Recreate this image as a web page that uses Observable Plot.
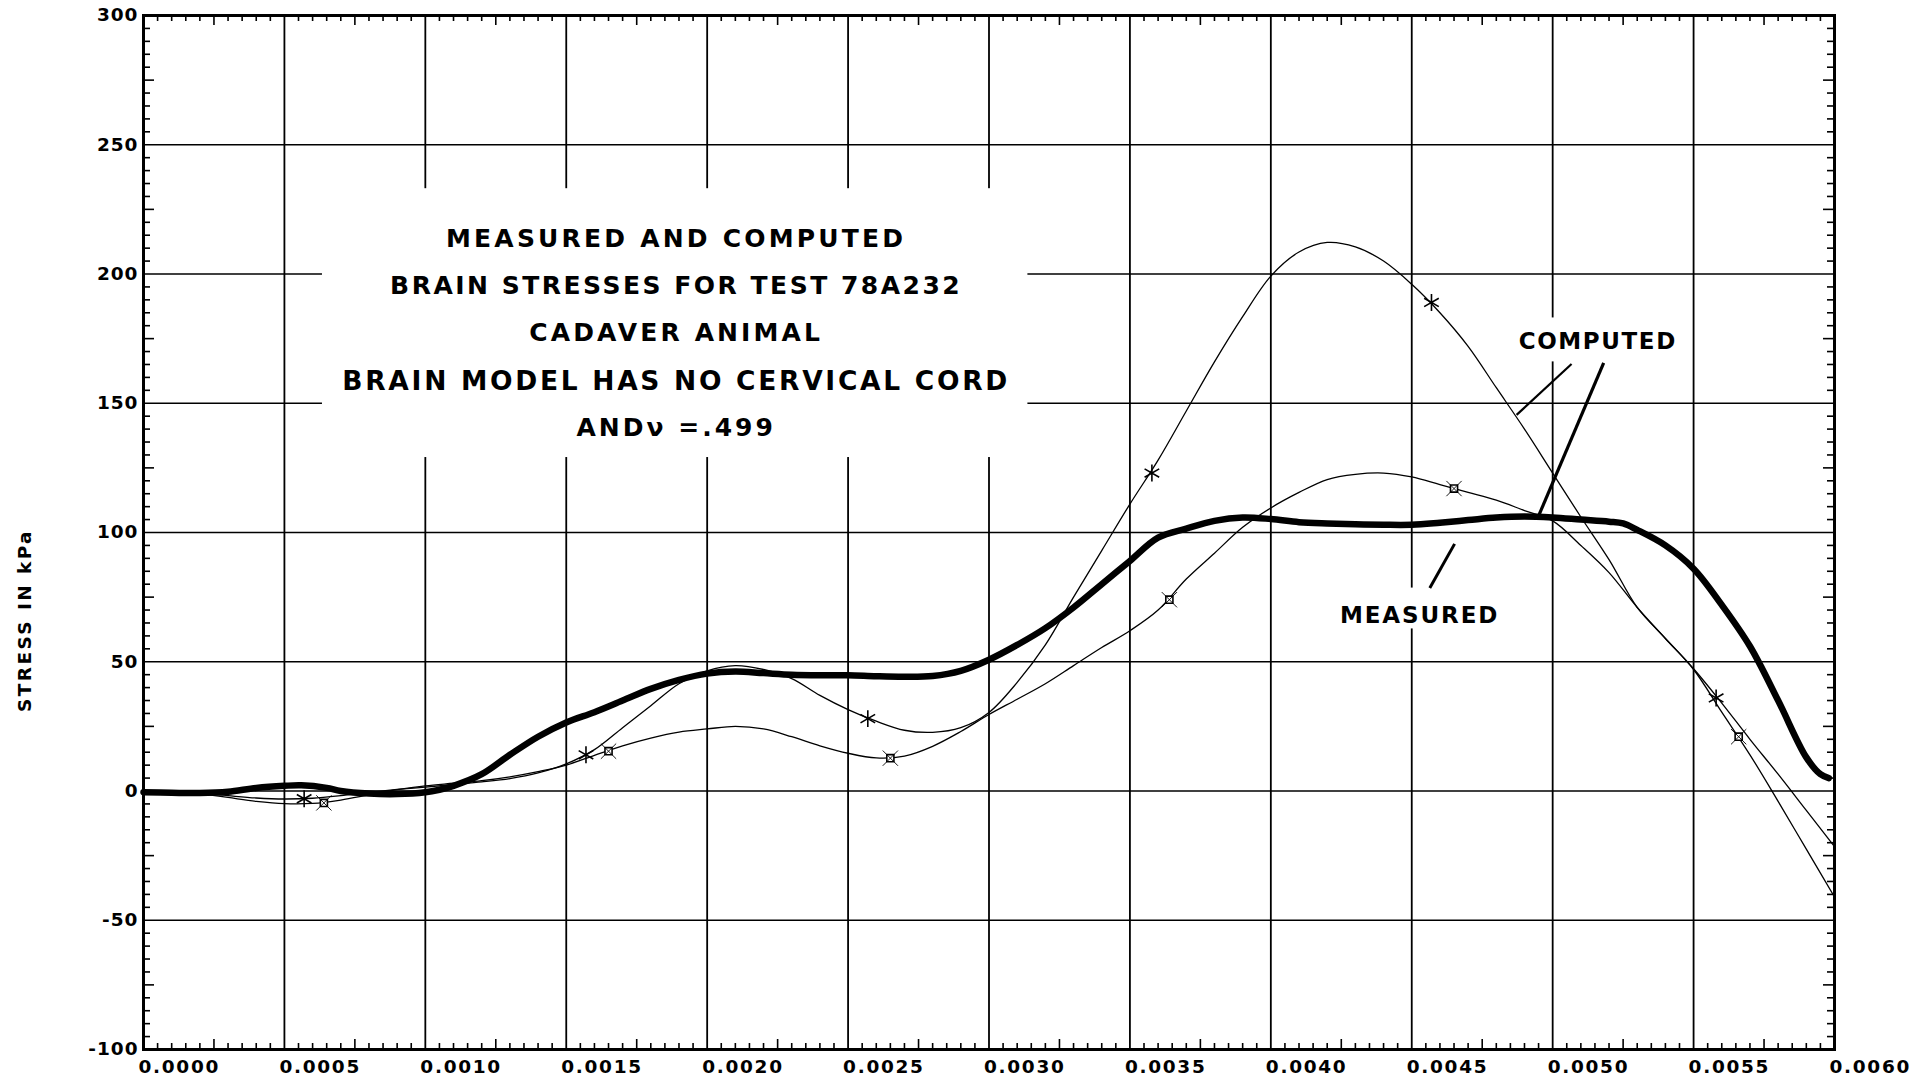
<!DOCTYPE html>
<html>
<head>
<meta charset="utf-8">
<script src="https://cdn.jsdelivr.net/npm/d3@7"></script>
<script src="https://cdn.jsdelivr.net/npm/@observablehq/plot@0.6"></script>
<style>
  html, body { margin: 0; padding: 0; background: #fff; }
  #chart { width: 1930px; height: 1082px; overflow: hidden; }
</style>
</head>
<body>
<div id="chart"></div>
<script>
// ---------- DATA ----------
// time in seconds, stress in kPa
const measuredTime = [0, 0.0001, 0.0002, 0.0003, 0.0004, 0.0005, 0.00056, 0.00065, 0.0007, 0.0008, 0.0009, 0.001, 0.00105, 0.0011, 0.0012, 0.0013, 0.0014, 0.0015, 0.0016, 0.0017, 0.0018, 0.0019, 0.002, 0.0021, 0.0022, 0.0023, 0.0024, 0.0025, 0.0026, 0.0027, 0.0028, 0.0029, 0.003, 0.0031, 0.0032, 0.0033, 0.0034, 0.0035, 0.0036, 0.0037, 0.0038, 0.0039, 0.004, 0.0041, 0.0042, 0.0043, 0.0044, 0.0045, 0.0046, 0.0047, 0.0048, 0.0049, 0.005, 0.0051, 0.0052, 0.00525, 0.0053, 0.0054, 0.0055, 0.0056, 0.0057, 0.0058, 0.0059, 0.00595, 0.00598];
const measuredStress = [-0.5, -0.7, -0.8, -0.3, 1.2, 2, 2.2, 1.2, 0, -1, -1.2, -0.5, 0.5, 2, 6.5, 14, 21, 26.5, 30.5, 35, 39.5, 43, 45.4, 46.2, 45.6, 45, 44.8, 44.8, 44.4, 44.2, 44.5, 46.5, 50.8, 56.5, 63, 71, 80, 89, 98, 101.5, 104.5, 105.8, 105.2, 104, 103.5, 103.2, 103, 103, 103.8, 104.8, 105.8, 106.2, 105.8, 105, 104.2, 103.5, 101, 95, 86, 72, 56, 35, 13, 6.5, 5];

// computed curve with asterisk markers
const computedATime = [0, 0.0001, 0.0002, 0.0003, 0.0004, 0.0005, 0.0006, 0.0007, 0.0008, 0.0009, 0.001, 0.0011, 0.0012, 0.0013, 0.0014, 0.0015, 0.0016, 0.0017, 0.0018, 0.0019, 0.002, 0.0021, 0.0022, 0.0023, 0.0024, 0.0025, 0.0026, 0.0027, 0.0028, 0.0029, 0.003, 0.0031, 0.0032, 0.0033, 0.0034, 0.0035, 0.0036, 0.0037, 0.0038, 0.0039, 0.004, 0.0041, 0.0042, 0.0043, 0.0044, 0.0045, 0.0046, 0.0047, 0.0048, 0.0049, 0.005, 0.0051, 0.0052, 0.0053, 0.0054, 0.0055, 0.0056, 0.0057, 0.0058, 0.0059, 0.006];
const computedAStress = [0, -0.3, -0.8, -1.8, -2.7, -3.1, -2.8, -1.8, -0.5, 0.6, 1.5, 2.5, 3.5, 4.8, 7, 10.5, 16, 24.5, 33, 41.5, 46.5, 48.5, 47, 43.5, 37, 31.5, 27, 23.5, 22.7, 24.5, 30.4, 42, 56.5, 75, 93, 111, 128, 147, 166, 183.5, 199.2, 208.5, 212.2, 210.5, 205, 196, 185, 172, 156, 140, 123, 106, 89.5, 71, 59, 47.3, 34, 20, 6.5, -7.5, -21.5];
const computedAMarkTime = [0.00057, 0.00157, 0.00257, 0.003578, 0.00457, 0.00558];
const computedAMarkStress = [-3, 14, 28, 123, 189, 36];

// computed curve with square markers
const computedBTime = [0, 0.0001, 0.0002, 0.0003, 0.0004, 0.0005, 0.0006, 0.0007, 0.0008, 0.0009, 0.001, 0.0011, 0.0012, 0.0013, 0.0014, 0.0015, 0.0016, 0.0017, 0.0018, 0.0019, 0.002, 0.0021, 0.0022, 0.0023, 0.0024, 0.0025, 0.0026, 0.0027, 0.0028, 0.0029, 0.003, 0.0031, 0.0032, 0.0033, 0.0034, 0.0035, 0.0036, 0.0037, 0.0038, 0.0039, 0.004, 0.0041, 0.0042, 0.0043, 0.0044, 0.0045, 0.0046, 0.0047, 0.0048, 0.0049, 0.005, 0.0051, 0.0052, 0.0053, 0.0054, 0.0055, 0.0056, 0.0057, 0.0058, 0.0059, 0.006];
const computedBStress = [0, -0.3, -1, -2.5, -4, -4.9, -4.8, -3.5, -1.5, 0.5, 2, 3, 4, 5.5, 7.5, 10, 13.8, 17.5, 20.5, 22.8, 24, 25, 24, 21, 17.5, 14.6, 12.8, 13.5, 17.3, 23, 29.6, 35.5, 41.5, 48.5, 55.5, 62, 70, 82, 92, 102, 109.5, 115.5, 120.5, 122.5, 123, 121.5, 118.5, 115.5, 112.5, 108.5, 104.5, 95, 84.5, 71, 59, 47, 30.5, 14, -4, -22.5, -41];
const computedBMarkTime = [0.00064, 0.00165, 0.00265, 0.00364, 0.00465, 0.00566];
const computedBMarkStress = [-4.6, 15.4, 12.7, 74, 117, 21];

// axes
const xTickValues = [0, 0.0005, 0.001, 0.0015, 0.002, 0.0025, 0.003, 0.0035, 0.004, 0.0045, 0.005, 0.0055, 0.006];
const yTickValues = [-100, -50, 0, 50, 100, 150, 200, 250, 300];
const xGridValues = [0.0005, 0.001, 0.0015, 0.002, 0.0025, 0.003, 0.0035, 0.004, 0.0045, 0.005, 0.0055];
const yGridValues = [-50, 0, 50, 100, 150, 200, 250];
const yAxisTitle = "STRESS IN kPa";

// text
const titleLines = [
  "MEASURED AND COMPUTED",
  "BRAIN STRESSES FOR TEST 78A232",
  "CADAVER ANIMAL",
  "BRAIN MODEL HAS NO CERVICAL CORD",
  "ANDν =.499"
];
const titleLineStress = [213.5, 195.4, 177.2, 158.6, 140.4];
const titleTime = 0.00189;
const labelTexts = ["COMPUTED", "MEASURED"];
const labelTime = [0.00516, 0.004528];
const labelStress = [174, 67.7];

// pointer segments (time/stress anchors)
const pointerT1 = [0.005067, 0.005181, 0.004652];
const pointerS1 = [165.2, 165.6, 95.6];
const pointerT2 = [0.004872, 0.00495, 0.004564];
const pointerS2 = [145.5, 106.4, 78.5];
const pointerWidth = [2.2, 3.2, 3];

// white knock-out boxes behind texts
const boxT1 = [0.000635, 0.00487, 0.00423];
const boxT2 = [0.003138, 0.00547, 0.00483];
const boxS1 = [129, 166, 62.7];
const boxS2 = [233, 183, 78.5];

// ---------- BUILD ----------
const W = 1930, H = 1082;
const mL = 143, mR = 96, mT = 15, mB = 33;
const pxPerY = (H - mT - mB) / 400;
const pxPerX = (W - mL - mR) / 0.006;

const zip = (xs, ys) => xs.map((x, i) => ({t: x, s: ys[i]}));
const measured = zip(measuredTime, measuredStress);
const compA = zip(computedATime, computedAStress);
const compB = zip(computedBTime, computedBStress);
const marksA = zip(computedAMarkTime, computedAMarkStress);
const marksB = zip(computedBMarkTime, computedBMarkStress);

const xMinor = d3.range(1, 120).filter(i => i % 10 !== 0).map(i => ({v: i * 0.00005, long: i % 5 === 0}));
const yMinor = d3.range(-19, 60).filter(i => i % 10 !== 0).map(i => ({v: i * 5, long: i % 5 === 0}));
const lenX = d => (d.long ? 10 : 6);
const lenY = d => (d.long ? 11 : 7);

const titles = titleLines.map((t, i) => ({text: t, t: titleTime, s: titleLineStress[i], size: i === 3 ? 26.5 : 25}));
const labels = labelTexts.map((t, i) => ({text: t, t: labelTime[i], s: labelStress[i]}));
const pointers = pointerT1.map((t, i) => ({t1: t, s1: pointerS1[i], t2: pointerT2[i], s2: pointerS2[i], w: pointerWidth[i]}));
const boxes = boxT1.map((t, i) => ({t1: t, t2: boxT2[i], s1: boxS1[i], s2: boxS2[i]}));
const yTitle = [{text: yAxisTitle, t: -(143 - 25) / pxPerX, s: (790.5 - 620) / pxPerY}];

const font = "DejaVu Sans";

const chart = Plot.plot({
  width: W, height: H,
  marginLeft: mL, marginRight: mR, marginTop: mT, marginBottom: mB,
  style: {fontFamily: font, background: "#fff", color: "#000"},
  x: {domain: [0, 0.006]},
  y: {domain: [-100, 300]},
  marks: [
    Plot.ruleX(xGridValues, {stroke: "#000", strokeWidth: 1.8}),
    Plot.ruleY(yGridValues, {stroke: "#000", strokeWidth: 1.3}),
    Plot.rect(boxes, {x1: "t1", x2: "t2", y1: "s1", y2: "s2", fill: "#fff"}),
    // minor ticks (inward)
    Plot.ruleX(xMinor, {x: "v", y1: -100, y2: d => -100 + lenX(d) / pxPerY, stroke: "#000", strokeWidth: 1.6}),
    Plot.ruleX(xMinor, {x: "v", y1: 300, y2: d => 300 - lenX(d) / pxPerY, stroke: "#000", strokeWidth: 1.6}),
    Plot.ruleY(yMinor, {y: "v", x1: 0, x2: d => lenY(d) / pxPerX, stroke: "#000", strokeWidth: 1.6}),
    Plot.ruleY(yMinor, {y: "v", x1: 0.006, x2: d => 0.006 - lenY(d) / pxPerX, stroke: "#000", strokeWidth: 1.6}),
    Plot.frame({stroke: "#000", strokeWidth: 3}),
    // curves
    Plot.line(compB, {x: "t", y: "s", stroke: "#000", strokeWidth: 1.3, curve: "catmull-rom"}),
    Plot.line(compA, {x: "t", y: "s", stroke: "#000", strokeWidth: 1.3, curve: "catmull-rom"}),
    Plot.line(measured, {x: "t", y: "s", stroke: "#000", strokeWidth: 6.5, curve: "catmull-rom", strokeLinecap: "round"}),
    Plot.dot(marksA, {x: "t", y: "s", symbol: "asterisk", r: 8, stroke: "#000", strokeWidth: 1.6}),
    Plot.dot(marksB, {x: "t", y: "s", symbol: "square", r: 4, stroke: "#000", fill: "#fff", strokeWidth: 1.6}),
    Plot.dot(marksB, {x: "t", y: "s", symbol: "times", r: 7, stroke: "#000", strokeWidth: 0.9}),
    // pointers
    Plot.link(pointers, {x1: "t1", y1: "s1", x2: "t2", y2: "s2", stroke: "#000", strokeWidth: "w", strokeLinecap: "butt"}),
    // axes
    Plot.axisX(xTickValues, {anchor: "bottom", tickSize: 0, tickPadding: 10, tickFormat: d3.format(".4f"),
      textAnchor: "start", dx: -5, fontSize: 18.5, fontWeight: "bold", label: null}),
    Plot.axisY(yTickValues, {anchor: "left", tickSize: 0, tickPadding: 5, tickFormat: d => String(d),
      fontSize: 18.5, fontWeight: "bold", label: null}),
    Plot.text(yTitle, {x: "t", y: "s", text: "text", rotate: -90, fontSize: 18.5, fontWeight: "bold", fill: "#000"}),
    // title & labels
    Plot.text(titles, {x: "t", y: "s", text: "text", fontSize: "size", fontWeight: "bold", fill: "#000"}),
    Plot.text(labels, {x: "t", y: "s", text: "text", fontSize: 23, fontWeight: "bold", fill: "#000"})
  ]
});

// letter spacing to match the wide lettering of the original
const spacing = new Map([
  [titleLines[0], 3.2], [titleLines[1], 2.5], [titleLines[2], 3.1], [titleLines[3], 2.7], [titleLines[4], 3],
  [labelTexts[0], 1.6], [labelTexts[1], 1.9], [yAxisTitle, 2.4]
]);
chart.querySelectorAll("text").forEach(t => {
  const s = t.textContent;
  if (spacing.has(s)) t.setAttribute("letter-spacing", spacing.get(s));
  else if (/^0\.\d{4}$/.test(s)) t.setAttribute("letter-spacing", 1.7);
  else if (/^-?\d+$/.test(s)) t.setAttribute("letter-spacing", 1);
});
document.getElementById("chart").appendChild(chart);
</script>
</body>
</html>
